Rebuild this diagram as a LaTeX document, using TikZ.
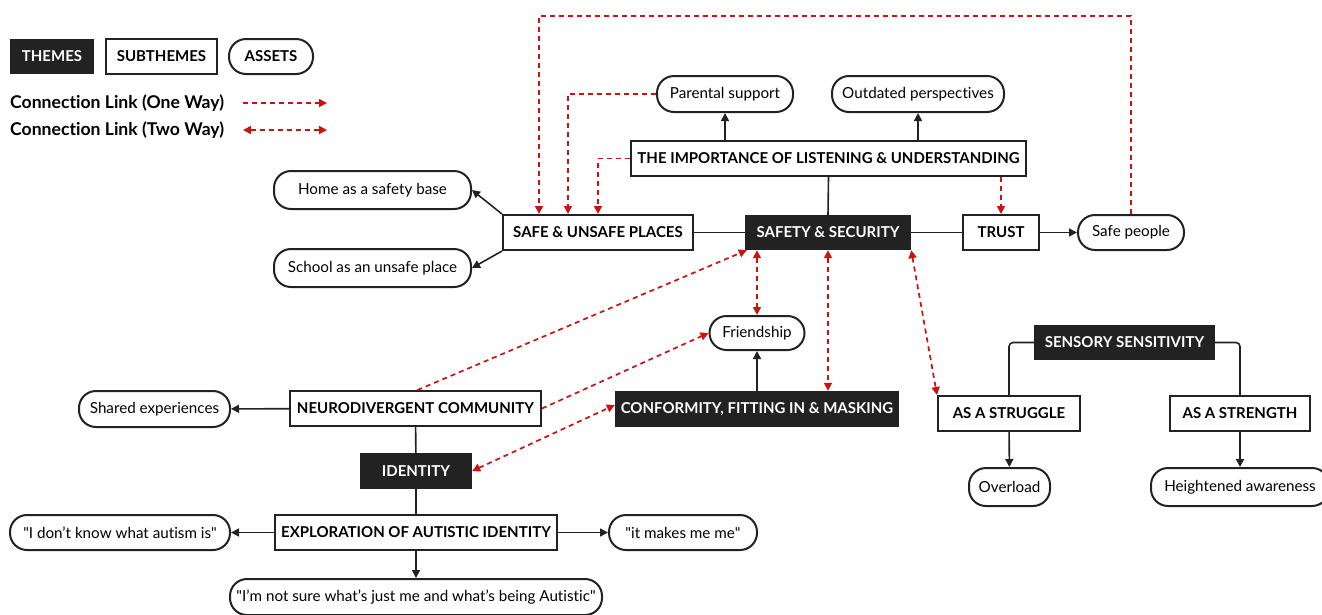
\documentclass[tikz,border=0pt]{standalone}
\usepackage{fontspec}
\setmainfont{Lato}[Ligatures=NoCommon]
\usetikzlibrary{arrows.meta}
\definecolor{themefill}{HTML}{222222}
\definecolor{linkred}{HTML}{CC1111}
\tikzset{
  box/.style={minimum height=35pt, inner sep=0pt, font=\fontsize{15}{18}\selectfont\bfseries},
  theme/.style={box, fill=themefill, text=white},
  subtheme/.style={box, draw=themefill, line width=2pt, fill=white},
  asset/.style={minimum height=36pt, inner sep=0pt, draw=themefill, line width=2pt, rounded corners=17pt, fill=white, font=\fontsize{15.2}{18}\selectfont},
  legendtext/.style={anchor=west, inner sep=0pt, font=\fontsize{17.6}{20}\selectfont\bfseries},
  tie/.style={draw=themefill, line width=1.6pt},
  link/.style={tie, -{Triangle[length=8pt,width=8pt]}},
  oneway/.style={draw=linkred, line width=1.7pt, dash pattern=on 5pt off 4pt, -{Triangle[length=8pt,width=8pt]}},
  twoway/.style={oneway, {Triangle[length=8pt,width=8pt]}-{Triangle[length=8pt,width=8pt]}},
}
\begin{document}
\begin{tikzpicture}[x=1pt, y=-1pt]
    \useasboundingbox (0,0) rectangle (1322,614);

    \node [theme, minimum width=84pt] (themeleg) at (52,56.5) {THEMES};
    \node [subtheme, minimum width=111pt] (subleg) at (161.5,56.5) {SUBTHEMES};
    \node [asset, minimum width=84pt, minimum height=35pt, font=\fontsize{15}{18}\selectfont\bfseries] (assetleg) at (271,56.5) {ASSETS};
    \node [legendtext] (legone) at (10,103) {Connection Link (One Way)};
    \node [legendtext] (legtwo) at (10,130) {Connection Link (Two Way)};
    \coordinate (legoneA) at (243,103);
    \coordinate (legoneB) at (327,103);
    \coordinate (legtwoA) at (243,130);
    \coordinate (legtwoB) at (327,130);
    \draw [oneway] (legoneA) -- (legoneB);
    \draw [twoway] (legtwoA) -- (legtwoB);

    \node [asset, minimum width=136pt] (parental) at (725,94) {Parental support};
    \node [asset, minimum width=172pt] (outdated) at (918,94) {Outdated perspectives};
    \node [subtheme, minimum width=395pt] (importance) at (828.5,158.5) {THE IMPORTANCE OF LISTENING \& UNDERSTANDING};
    \node [asset, minimum width=197pt, minimum height=38pt] (home) at (372.5,190) {Home as a safety base};
    \node [asset, minimum width=197pt, minimum height=38pt] (school) at (372.5,268) {School as an unsafe place};
    \node [subtheme, minimum width=190pt] (places) at (598,232.5) {SAFE \& UNSAFE PLACES};
    \node [theme, minimum width=166pt] (safety) at (828,232.5) {SAFETY \& SECURITY};
    \node [subtheme, minimum width=76pt] (trust) at (1001,232.5) {TRUST};
    \node [asset, minimum width=106pt, minimum height=35pt] (safepeople) at (1131,232.5) {Safe people};
    \node [asset, minimum width=95pt, minimum height=34pt] (friendship) at (757,333) {Friendship};
    \node [theme, minimum width=181pt] (sensory) at (1124.5,342.5) {SENSORY SENSITIVITY};
    \node [subtheme, minimum width=251pt] (neuro) at (415.5,408.5) {NEURODIVERGENT COMMUNITY};
    \node [asset, minimum width=151pt] (shared) at (154.5,409) {Shared experiences};
    \node [theme, minimum width=284pt, minimum height=36pt] (conformity) at (757,409) {CONFORMITY, FITTING IN \& MASKING};
    \node [subtheme, minimum width=142pt] (struggle) at (1009,413.5) {AS A STRUGGLE};
    \node [subtheme, minimum width=140pt] (strength) at (1240,413.5) {AS A STRENGTH};
    \node [theme, minimum width=112pt, minimum height=36pt] (identity) at (416,471) {IDENTITY};
    \node [asset, minimum width=81pt, minimum height=38pt] (overload) at (1009.5,487) {Overload};
    \node [asset, minimum width=178pt, minimum height=38pt] (heightened) at (1240,487) {Heightened awareness};
    \node [asset, minimum width=220pt, minimum height=35pt] (dontknow) at (120,532.5) {\textquotedbl I don't know what autism is\textquotedbl};
    \node [subtheme, minimum width=282pt] (exploration) at (416,532.5) {EXPLORATION OF AUTISTIC IDENTITY};
    \node [asset, minimum width=148pt, minimum height=35pt] (makesme) at (683,532.5) {\textquotedbl it makes me me\textquotedbl};
    \node [asset, minimum width=372pt] (notsure) at (416,597) {\textquotedbl I'm not sure what's just me and what's being Autistic\textquotedbl};

    \draw [link] (parental.south |- importance.north) -- (parental.south);
    \draw [link] (outdated.south |- importance.north) -- (outdated.south);
    \draw [tie] (importance.south) -- (safety.north);
    \draw [tie] (places) -- (safety);
    \draw [tie] (safety) -- (trust);
    \draw [link] (trust) -- (safepeople);
    \draw [link] (places.north west) -- (home.east);
    \draw [link] (places.south west) -- (school.east);
    \draw [link] (friendship.south |- conformity.north) -- (friendship.south);
    \draw [link] (neuro) -- (shared);
    \draw [tie] (neuro) -- (identity);
    \draw [tie] (identity) -- (exploration);
    \draw [link] (exploration) -- (dontknow);
    \draw [link] (exploration) -- (makesme);
    \draw [link] (exploration) -- (notsure);
    \draw [tie, rounded corners=4pt] (sensory.west) -| (struggle.north);
    \draw [tie, rounded corners=4pt] (sensory.east) -| (strength.north);
    \draw [link] (struggle) -- (overload);
    \draw [link] (strength) -- (heightened);

    \draw [oneway] (safepeople.north) -- ++(0,-198) -| ([xshift=-59pt]places.north);
    \draw [oneway] (parental.west) -| ([xshift=-30pt]places.north);
    \draw [oneway] (importance.west) -| (places.north);
    \draw [oneway] (importance.south -| trust.north) -- (trust.north);
    \draw [oneway] ([xshift=2pt]neuro.north) -- ([xshift=2pt]safety.south west);
    \draw [oneway] (neuro.east) -- (friendship.west);
    \draw [twoway] (identity.east) -- ([yshift=4pt]conformity.west);
    \draw [twoway] (safety.south -| friendship.north) -- (friendship.north);
    \draw [twoway] (safety.south) -- (safety.south |- conformity.north);
    \draw [twoway] (safety.south east) -- (struggle.north west);
  \end{tikzpicture}
\end{document}
